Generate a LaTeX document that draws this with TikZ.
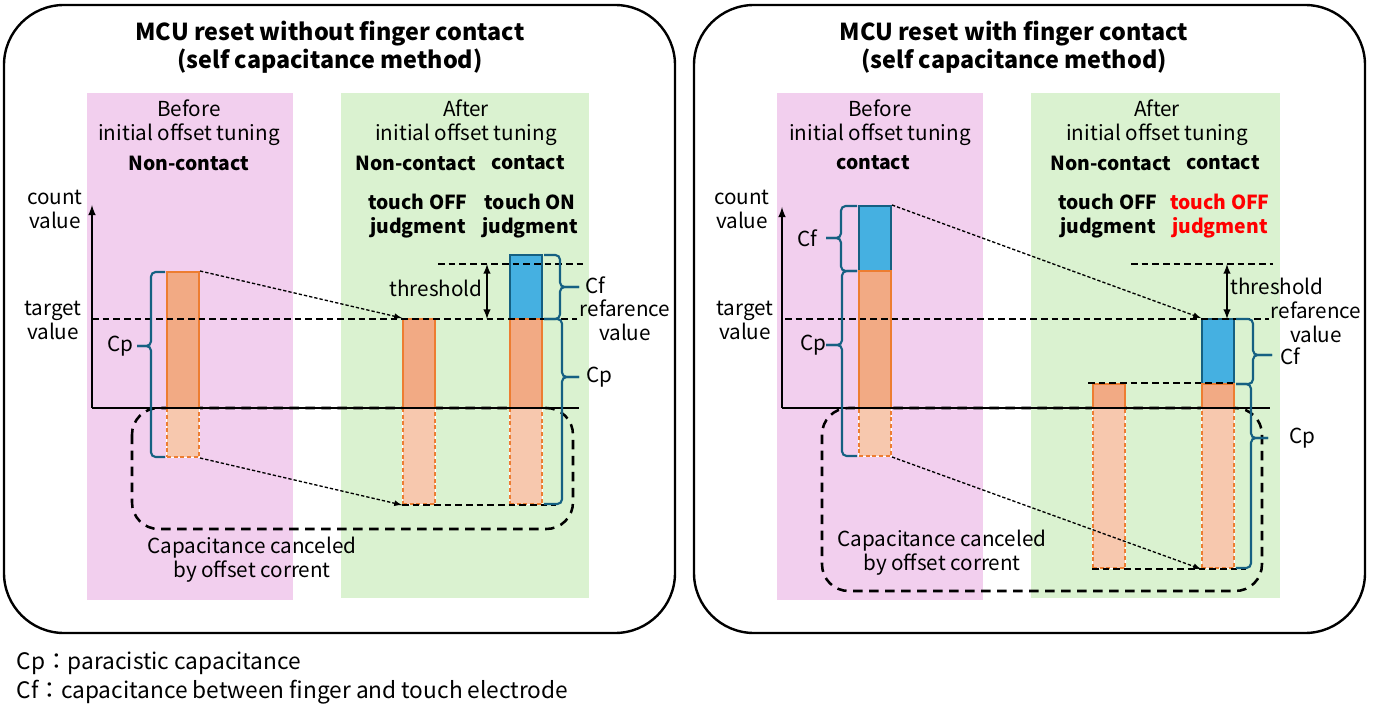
\documentclass[tikz,border=0pt]{standalone}
\usepackage{fontspec}
\setmainfont{Noto Sans CJK JP}
\usetikzlibrary{fit}

\definecolor{pinkbg}{RGB}{242,207,238}
\definecolor{greenbg}{RGB}{218,242,208}
\definecolor{cporange}{RGB}{242,170,132}
\definecolor{cplight}{RGB}{247,200,174}
\definecolor{barline}{RGB}{237,125,49}
\definecolor{cfblue}{RGB}{69,176,225}
\definecolor{braceblue}{RGB}{21,96,130}
\definecolor{judgered}{RGB}{255,0,0}

\tikzset{
  every picture/.style={x=0.75pt, y=-0.75pt},
  outerbox/.style={line width=1.8pt, rounded corners=45pt},
  txt/.style={align=center, font=\fontsize{15.5}{18}\selectfont},
  boldtxt/.style={txt, font=\fontsize{14.5}{18}\selectfont\bfseries},
  titletxt/.style={align=center, font=\fontsize{17.5}{21}\selectfont\bfseries},
  legendtxt/.style={align=left, font=\fontsize{17}{21}\selectfont},
  bar/.style={inner sep=0pt, line width=1.5pt},
  cpbar/.style={bar, fill=cporange, draw=barline},
  cfbar/.style={bar, fill=cfblue, draw=braceblue},
  offbar/.style={bar, fill=cplight, draw=barline, dash pattern=on 3pt off 2pt,
    preaction={draw=white, solid}},
  refline/.style={line width=1.9pt, dash pattern=on 5pt off 3pt},
  cancelbox/.style={line width=1.9pt, dash pattern=on 7pt off 5pt, rounded corners=20pt},
  movearrow/.style={-latex, line width=1pt, dash pattern=on 2.5pt off 1.5pt},
  bracestyle/.style={draw=braceblue, line width=1.6pt, rounded corners=3.5pt}
}

% brace: base x, top y, bottom y, spine x, tip x, tip y
\newcommand{\capbrace}[6]{%
  \draw[bracestyle] (#1,#2) -- (#4,#2) -- (#4,#6) -- (#5,#6);
  \draw[bracestyle] (#1,#3) -- (#4,#3) -- (#4,#6) -- (#5,#6);
}

\begin{document}
\begin{tikzpicture}
    \useasboundingbox (0,0) rectangle (1379,720);

    % Outer frames
    \draw[outerbox] (4,5) rectangle (675,633);
    \draw[outerbox] (694,5) rectangle (1365,633);

    % Background areas
    \fill[pinkbg] (87,93) rectangle (293,600);
    \fill[greenbg] (341,93) rectangle (589,598);
    \fill[pinkbg] (777,93) rectangle (983,600);
    \fill[greenbg] (1031,93) rectangle (1280,598);

    %%%%%%%%%% Left: reset without finger contact %%%%%%%%%%

    % Canceled capacitance region
    \draw[cancelbox] (132,408) rectangle (573,529);

    % Bars
    \node[cpbar, fit={(167,272) (199,408)}] (lbefore) {};
    \node[offbar, fit={(167,408) (199,457)}] (lbeforeoff) {};
    \node[cpbar, fit={(403,319) (435,408)}] (loff) {};
    \node[offbar, fit={(403,408) (435,504)}] (loffoff) {};
    \node[cfbar, fit={(510,255) (542,319)}] (lonf) {};
    \node[cpbar, fit={(510,319) (542,408)}] (lon) {};
    \node[offbar, fit={(510,408) (542,504)}] (lonoff) {};

    % Target and threshold lines
    \draw[refline] (92,319) -- (577,319);
    \draw[refline] (438,264) -- (583,264);
    \draw[refline] (loffoff.south west) -- ([xshift=10pt]lonoff.south east);
    \draw[latex-latex, line width=1.5pt] (487,264) -- (487,319);

    % Axes
    \draw[-latex, line width=1.6pt] (92,408) -- (92,205);
    \draw[line width=1.6pt] (92,408) -- (579,408);

    % Braces
    \capbrace{165}{272}{457}{151}{137}{346}
    \capbrace{544}{255}{319}{560}{579}{287}
    \capbrace{544}{319}{504}{562}{579}{377}

    % Shift of count value
    \draw[movearrow] (lbefore.north east) -- (loff.north west);
    \draw[movearrow] (lbeforeoff.south east) -- (loffoff.south west);

    % Texts
    \node[titletxt] (ltitle) at (330,47) {MCU reset without finger contact\\(self capacitance method)};
    \node[txt] (lbeforetxt) at (189,123) {Before\\initial offset tuning};
    \node[boldtxt] (lbeforestate) at (189,163) {Non-contact};
    \node[txt] (laftertxt) at (466,123) {After\\initial offset tuning};
    \node[boldtxt] (lafteroff) at (416,163) {Non-contact};
    \node[boldtxt] (lafteron) at (528,163) {contact};
    \node[boldtxt] (ljudgeoff) at (418,216) {touch OFF\\judgment};
    \node[boldtxt] (ljudgeon) at (530,216) {touch ON\\judgment};
    \node[txt] (lcount) at (55,209) {count\\value};
    \node[txt] (ltarget) at (53,320) {target\\value};
    \node[txt] (lthreshold) at (436,288) {threshold};
    \node[txt] (lcf) at (595,285) {Cf};
    \node[txt] (lref) at (625,320) {refarence\\value};
    \node[txt] (lcpright) at (599,377) {Cp};
    \node[txt] (lcpleft) at (120,346) {Cp};
    \node[txt] (lcancel) at (252,560) {Capacitance canceled\\by offset corrent};

    %%%%%%%%%% Right: reset with finger contact %%%%%%%%%%

    % Canceled capacitance region
    \draw[cancelbox] (822,408) rectangle (1262,591);

    % Bars
    \node[cfbar, fit={(859,206) (891,271)}] (rbeforef) {};
    \node[cpbar, fit={(859,271) (891,408)}] (rbefore) {};
    \node[offbar, fit={(859,408) (891,456)}] (rbeforeoff) {};
    \node[cpbar, fit={(1093,384) (1125,408)}] (roff) {};
    \node[offbar, fit={(1093,408) (1125,568)}] (roffoff) {};
    \node[cfbar, fit={(1202,319) (1234,384)}] (ronf) {};
    \node[cpbar, fit={(1202,384) (1234,408)}] (ron) {};
    \node[offbar, fit={(1202,408) (1234,568)}] (ronoff) {};

    % Target and threshold lines
    \draw[refline] (785,319) -- (1269,319);
    \draw[refline] (1131,264) -- (1273,264);
    \draw[refline] ([xshift=-3pt]roff.north west) -- (ron.north east);
    \draw[refline] (roffoff.south west) -- ([xshift=8pt]ronoff.south east);
    \draw[latex-latex, line width=1.5pt] (1227,264) -- (1227,319);

    % Axes
    \draw[-latex, line width=1.6pt] (782,408) -- (782,207);
    \draw[line width=1.6pt] (782,408) -- (1270,408);

    % Braces
    \capbrace{857}{206}{271}{841}{826}{238}
    \capbrace{857}{271}{456}{842}{826}{345}
    \capbrace{1236}{319}{384}{1253}{1272}{355}
    \capbrace{1236}{384}{568}{1251}{1268}{438}

    % Shift of count value
    \draw[movearrow] (rbeforef.north east) -- (ronf.north west);
    \draw[movearrow] (rbeforeoff.south east) -- (ronoff.south west);

    % Texts
    \node[titletxt] (rtitle) at (1014,47) {MCU reset with finger contact\\(self capacitance method)};
    \node[txt] (rbeforetxt) at (880,123) {Before\\initial offset tuning};
    \node[boldtxt] (rbeforestate) at (873,163) {contact};
    \node[txt] (raftertxt) at (1157,123) {After\\initial offset tuning};
    \node[boldtxt] (rafteroff) at (1111,163) {Non-contact};
    \node[boldtxt] (rafteron) at (1223,163) {contact};
    \node[boldtxt] (rjudgeoff) at (1108,216) {touch OFF\\judgment};
    \node[boldtxt, text=judgered] (rjudgeon) at (1220,216) {touch OFF\\judgment};
    \node[txt] (rcount) at (742,209) {count\\value};
    \node[txt] (rtarget) at (745,320) {target\\value};
    \node[txt] (rthreshold) at (1277,286) {threshold};
    \node[txt] (rref) at (1316,322) {refarence\\value};
    \node[txt] (rcfleft) at (807,238) {Cf};
    \node[txt] (rcpleft) at (813,345) {Cp};
    \node[txt] (rcfright) at (1290,356) {Cf};
    \node[txt] (rcpright) at (1302,438) {Cp};
    \node[txt] (rcancel) at (942,553) {Capacitance canceled\\by offset corrent};

    % Legend
    \node[legendtxt, anchor=west] (legcp) at (12,663) {Cp：paracistic capacitance};
    \node[legendtxt, anchor=west] (legcf) at (12,692) {Cf：capacitance between finger and touch electrode};
\end{tikzpicture}
\end{document}
